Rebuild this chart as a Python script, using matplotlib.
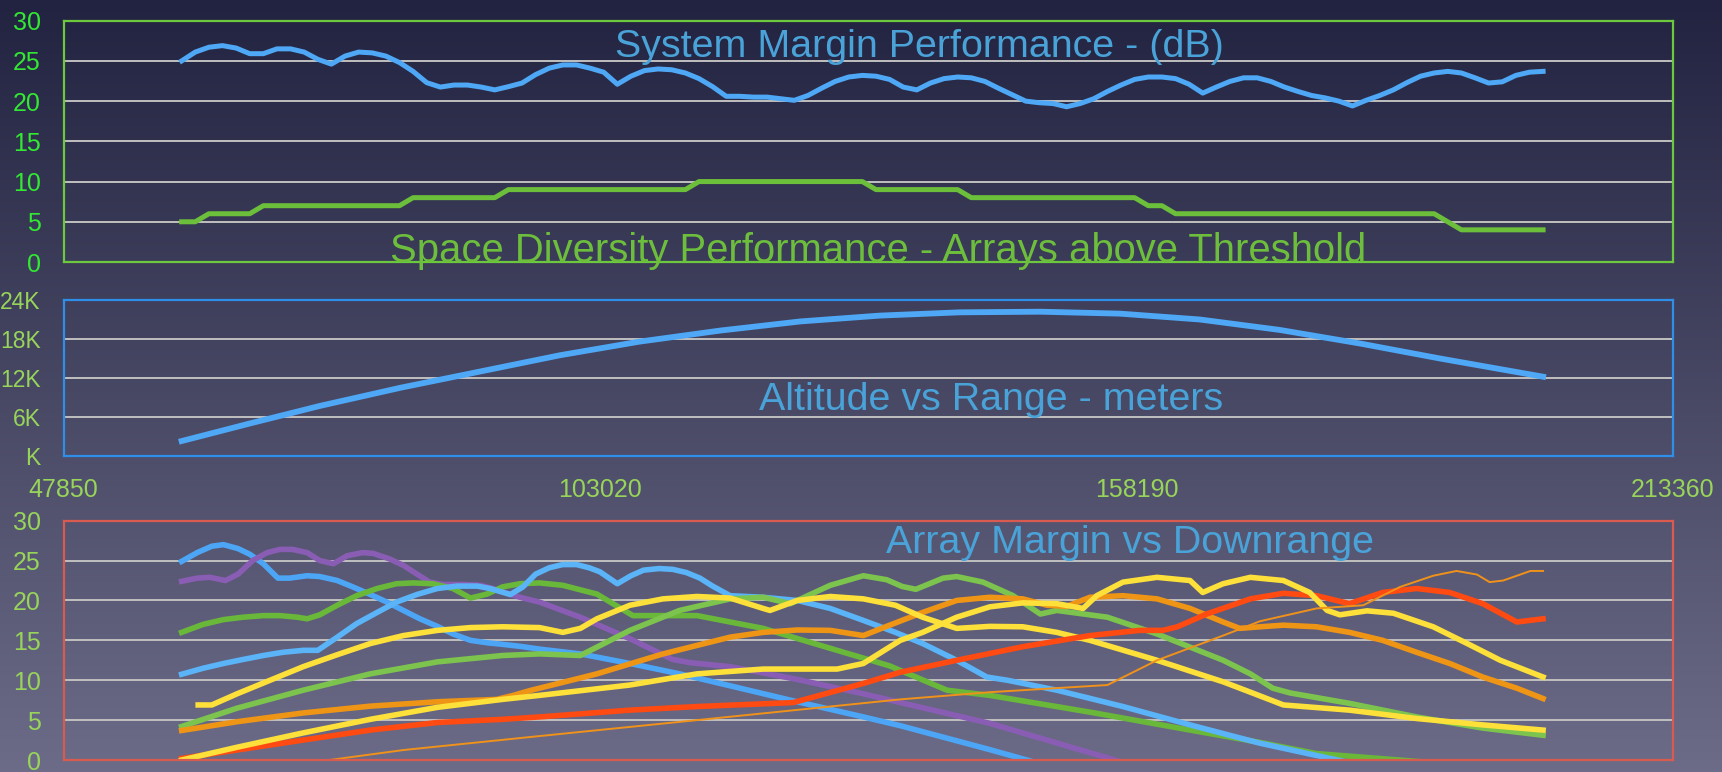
import matplotlib
matplotlib.use("Agg")
import matplotlib.pyplot as plt
import numpy as np

W, H, DPI = 1722, 772, 100

plt.rcParams['font.family'] = ['Liberation Sans', 'DejaVu Sans']

# ---------------- data ----------------
# system panel is sampled every 1400 m downrange
downrange = np.arange(60000, 200001, 1400)

system_margin_db = [
    25.0, 26.1, 26.7, 26.9, 26.6, 25.9, 25.9, 26.5, 26.5, 26.1,
    25.2, 24.6, 25.6, 26.1, 26.0, 25.6, 24.8, 23.7, 22.3, 21.75,
    22.0, 22.0, 21.75, 21.4, 21.8, 22.25, 23.3, 24.1, 24.5, 24.5,
    24.1, 23.6, 22.1, 23.1, 23.8, 24.0, 23.9, 23.5, 22.8, 21.8,
    20.6, 20.6, 20.5, 20.5, 20.3, 20.1, 20.7, 21.6, 22.45, 23.0,
    23.2, 23.1, 22.7, 21.75, 21.4, 22.25, 22.8, 23.0, 22.9, 22.45,
    21.6, 20.8, 20.0, 19.8, 19.7, 19.3, 19.7, 20.3, 21.2, 22.0,
    22.7, 23.0, 23.0, 22.8, 22.1, 21.0, 21.75, 22.45, 22.9, 22.9,
    22.45, 21.75, 21.2, 20.7, 20.4, 20.0, 19.4, 20.1, 20.7, 21.4,
    22.3, 23.1, 23.5, 23.7, 23.5, 22.9, 22.25, 22.4, 23.2, 23.6,
    23.7]

arrays_above_threshold = [
    5, 5,
    6, 6, 6, 6,
    7, 7, 7, 7, 7, 7, 7, 7, 7, 7, 7,
    8, 8, 8, 8, 8, 8, 8,
    9, 9, 9, 9, 9, 9, 9, 9, 9, 9, 9, 9, 9, 9,
    10, 10, 10, 10, 10, 10, 10, 10, 10, 10, 10, 10, 10,
    9, 9, 9, 9, 9, 9, 9,
    8, 8, 8, 8, 8, 8, 8, 8, 8, 8, 8, 8, 8,
    7, 7,
    6, 6, 6, 6, 6, 6, 6, 6, 6, 6, 6, 6, 6, 6, 6, 6, 6, 6, 6, 6,
    5,
    4, 4, 4, 4, 4, 4, 4]

altitude_range = [60000, 67000, 74200, 82500, 90700, 98900, 107100, 115400, 123600,
                  131800, 140000, 148300, 156500, 164700, 172900, 181200, 189400, 200000]
altitude_m = [2300, 5000, 7700, 10500, 13000, 15500, 17600, 19300, 20700,
              21600, 22100, 22200, 21900, 21000, 19400, 17300, 15000, 12200]

# per-array margin (dB) vs downrange (m)
blue_a_x = [60000, 61600, 63100, 64300, 65800, 67000, 68400, 69900, 71100, 72900,
            74200, 76000, 77600, 79400, 81100, 82800, 84500, 86300, 87900, 89700,
            91400, 93000, 94800, 96800, 101000, 106100, 111200, 116400, 123300, 130100,
            133900, 143100, 147500]
blue_a_db = [24.9, 26.0, 26.8, 27.0, 26.5, 25.8, 24.6, 22.8, 22.8, 23.1,
             23.0, 22.5, 21.7, 20.75, 19.8, 18.75, 17.7, 16.75, 15.8, 15.0,
             14.7, 14.5, 14.25, 13.9, 13.3, 12.1, 10.8, 9.3, 7.3, 5.4,
             4.3, 1.3, -0.2]

purple_x = [60000, 61600, 62900, 64500, 65800, 67300, 68800, 70100, 71400, 72900,
            74200, 75600, 77000, 78600, 79700, 81400, 82800, 84200, 85500, 86900,
            88900, 90700, 92000, 93800, 95100, 96800, 101000, 106100, 110500, 112300,
            116400, 123300, 130100, 133900, 143100, 156500]
purple_db = [22.4, 22.8, 22.9, 22.5, 23.3, 25.0, 26.0, 26.4, 26.4, 26.0,
             25.0, 24.6, 25.6, 26.0, 25.9, 25.2, 24.4, 23.3, 22.3, 22.0,
             22.0, 21.9, 21.5, 20.75, 20.3, 19.8, 17.9, 15.2, 12.6, 12.2,
             11.7, 10.1, 8.3, 7.2, 4.6, -0.2]

green_a_x = [60000, 62200, 64300, 66300, 68400, 70100, 71900, 72900, 74200, 76000,
             78000, 80100, 82100, 83800, 85800, 87900, 89700, 91400, 93000, 94800,
             96800, 99200, 102700, 106400, 113000, 119800, 126700, 132800, 138700, 143100,
             153400, 163700, 170900, 176700, 187300]
green_a_db = [16.0, 17.0, 17.6, 17.9, 18.1, 18.1, 17.9, 17.7, 18.2, 19.4,
              20.6, 21.5, 22.1, 22.2, 22.1, 21.5, 20.3, 20.8, 21.7, 22.1,
              22.2, 21.9, 20.8, 18.1, 18.1, 16.5, 14.0, 11.8, 8.75, 8.1,
              6.0, 3.75, 2.2, 0.8, -0.2]

blue_b_x = [60000, 62200, 64300, 66300, 68400, 70400, 72500, 74000, 76000, 78000,
            80100, 82100, 84200, 86300, 88300, 90400, 91700, 93800, 95100, 96400,
            97800, 99200, 100600, 101900, 103000, 104800, 106200, 107500, 109100, 110500,
            111900, 113300, 114600, 116400, 119800, 123300, 126700, 130100, 133400, 136200,
            139700, 142800, 144900, 150000, 156800, 163700, 170900, 179600]
blue_b_db = [10.75, 11.5, 12.1, 12.6, 13.1, 13.5, 13.75, 13.75, 15.4, 17.1,
             18.5, 19.8, 20.75, 21.5, 21.8, 21.8, 21.5, 20.75, 21.7, 23.3,
             24.1, 24.5, 24.5, 24.1, 23.6, 22.1, 23.1, 23.8, 24.0, 23.9,
             23.5, 22.8, 21.8, 20.6, 20.4, 20.0, 19.0, 17.5, 16.0, 14.6,
             12.5, 10.4, 10.0, 8.75, 6.7, 4.4, 2.1, -0.2]

green_b_x = [60000, 65700, 72500, 79400, 86300, 93000, 96800, 101000, 106100, 111200,
             116400, 119800, 122600, 126700, 130100, 132500, 134100, 135500, 138300, 139700,
             142400, 145500, 148300, 150000, 155200, 160300, 167100, 169900, 172200, 174000,
             180100, 187000, 193800, 200000]
green_b_db = [4.2, 6.5, 8.75, 10.8, 12.3, 13.1, 13.3, 13.1, 16.25, 18.75,
              20.2, 20.4, 19.6, 21.9, 23.1, 22.6, 21.75, 21.4, 22.8, 23.0,
              22.3, 20.6, 18.3, 18.75, 17.9, 15.8, 12.5, 10.8, 9.0, 8.4,
              7.1, 5.4, 4.0, 3.1]

yellow_a_x = [61700, 63100, 65700, 69100, 72500, 76000, 79400, 82800, 86300, 89700,
              93000, 96800, 99200, 101000, 102700, 106100, 109500, 113000, 116400, 119800,
              120500, 123300, 126700, 130100, 133400, 136200, 139700, 143100, 146500, 150000,
              153400, 160300, 167100, 169900, 173300, 180100, 187000, 193800, 200000]
yellow_a_db = [6.9, 6.9, 8.3, 10.0, 11.7, 13.2, 14.6, 15.6, 16.25, 16.6,
               16.7, 16.6, 16.0, 16.5, 17.7, 19.4, 20.2, 20.5, 20.3, 19.0,
               18.75, 20.0, 20.5, 20.2, 19.4, 17.9, 16.5, 16.75, 16.7, 16.0,
               15.0, 12.5, 9.8, 8.5, 6.9, 6.25, 5.2, 4.4, 3.75]

yellow_b_x = [60000, 65700, 72500, 79400, 86300, 93000, 96800, 106100, 113000, 119800,
              127400, 130100, 133900, 136200, 139700, 143100, 146500, 150000, 152700, 154100,
              156800, 160300, 163700, 165000, 167100, 169900, 173300, 176000, 177800, 179100,
              181900, 184600, 188700, 192200, 195600, 200000]
yellow_b_db = [0.0, 1.6, 3.4, 5.1, 6.6, 7.6, 8.1, 9.4, 10.8, 11.4,
               11.4, 12.1, 15.0, 16.0, 17.9, 19.2, 19.7, 19.6, 19.0, 20.6,
               22.3, 22.9, 22.5, 21.0, 22.1, 22.9, 22.5, 21.0, 18.75, 18.2,
               18.7, 18.4, 16.7, 14.6, 12.5, 10.4]

orange_x = [60000, 65700, 72500, 79400, 86300, 92400, 94100, 95800, 102700, 109500,
            116400, 119800, 123300, 126700, 130100, 132800, 136200, 139700, 143100, 146500,
            149000, 151000, 153400, 156800, 160300, 163700, 167100, 168800, 170900, 173300,
            176700, 180100, 183500, 187000, 190400, 193800, 197300, 200000]
orange_db = [3.7, 4.8, 5.9, 6.75, 7.3, 7.6, 8.1, 8.7, 10.8, 13.3,
             15.4, 16.0, 16.3, 16.25, 15.6, 16.9, 18.5, 20.0, 20.4, 20.2,
             19.4, 19.25, 20.4, 20.6, 20.2, 19.0, 17.3, 16.5, 16.7, 16.9,
             16.7, 16.0, 15.0, 13.5, 12.1, 10.4, 9.0, 7.7]

red_x = [60000, 65700, 72500, 79400, 86300, 93000, 96800, 106100, 113000, 122900,
         130100, 133900, 139700, 146500, 153400, 158500, 160900, 162400, 165400, 169900,
         173300, 176700, 180100, 183500, 187000, 190400, 193800, 197300, 200000]
red_db = [0.2, 1.25, 2.5, 3.75, 4.7, 5.1, 5.4, 6.25, 6.7, 7.2,
          9.6, 11.0, 12.5, 14.2, 15.6, 16.25, 16.25, 16.7, 18.3, 20.2,
          20.9, 20.6, 19.6, 21.0, 21.5, 21.0, 19.6, 17.3, 17.7]

thin_x = [72500, 82800, 96800, 113000, 133900, 143100, 155200, 160300, 167100, 170900,
          176700, 181500, 185300, 188700, 191100, 193200, 194500, 195900, 197300, 198700,
          200000]
thin_db = [-0.45, 1.25, 3.0, 5.0, 7.6, 8.5, 9.4, 12.5, 15.6, 17.4,
           19.0, 19.4, 21.7, 23.1, 23.7, 23.25, 22.3, 22.5, 23.1, 23.7,
           23.7]

range_ticks = [47850, 103020, 158190, 213360]
alt_ticks = [0, 6000, 12000, 18000, 24000]
alt_ticklabels = ["K", "6K", "12K", "18K", "24K"]
db_ticks = [0, 5, 10, 15, 20, 25, 30]

# ---------------- figure ----------------
fig = plt.figure(figsize=(W / DPI, H / DPI), dpi=DPI)

# background gradient
bg = fig.add_axes([0, 0, 1, 1], zorder=-10)
top_c = np.array([0x22, 0x23, 0x40]) / 255
bot_c = np.array([0x6c, 0x6c, 0x88]) / 255
t = np.linspace(0, 1, 256)[:, None, None]
bg.imshow(top_c * (1 - t) + bot_c * t, aspect='auto', extent=[0, 1, 0, 1])
bg.set_axis_off()

GRID = '#c0c0c0'
LBL_BRIGHT = '#33e833'
LBL_SOFT = '#98d45a'
TITLE_BLUE = '#4aa3d8'


def panel(top, bottom, edge, ticks, labelcolor, labelsize):
    ax = fig.add_axes([63.5 / W, 1 - bottom / H, 1609.5 / W, (bottom - top) / H])
    ax.set_facecolor('none')
    for s in ax.spines.values():
        s.set_color(edge)
        s.set_linewidth(1.6)
    ax.set_xlim(range_ticks[0], range_ticks[-1])
    ax.set_ylim(ticks[0], ticks[-1])
    ax.set_yticks(ticks)
    ax.grid(axis='y', color=GRID, lw=1.4)
    ax.tick_params(axis='y', length=0, pad=16.5, labelsize=labelsize, labelcolor=labelcolor)
    ax.tick_params(axis='x', length=0, labelbottom=False)
    return ax


# top: system margin + arrays above threshold
ax1 = panel(20.7, 262, '#6cc83c', db_ticks, LBL_BRIGHT, 18)
ax1.plot(downrange, arrays_above_threshold, color='#6cbf3a', lw=3.6, solid_joinstyle='round')
ax1.plot(downrange, system_margin_db, color='#4fa8f5', lw=3.6, solid_joinstyle='round')

# middle: altitude
ax2 = panel(300, 456, '#2f8fe8', alt_ticks, LBL_SOFT, 16.5)
ax2.set_yticklabels(alt_ticklabels)
ax2.set_xticks(range_ticks)
ax2.tick_params(axis='x', length=0, labelbottom=True, pad=16, labelsize=18, labelcolor=LBL_SOFT)
ax2.plot(altitude_range, altitude_m, color='#4fa8f5', lw=4.2, solid_joinstyle='round')

# bottom: array margins
ax3 = panel(520.7, 760, '#d95a4e', db_ticks, LBL_SOFT, 18)
series = [
    (blue_a_x, blue_a_db, '#4da6f5', 4.0),
    (purple_x, purple_db, '#8a5db5', 4.0),
    (green_a_x, green_a_db, '#6ab83a', 4.0),
    (blue_b_x, blue_b_db, '#5ab4f7', 4.0),
    (green_b_x, green_b_db, '#7cc44e', 4.0),
    (orange_x, orange_db, '#ef9516', 4.0),
    (yellow_a_x, yellow_a_db, '#fde03a', 4.0),
    (red_x, red_db, '#ff4a12', 4.0),
    (yellow_b_x, yellow_b_db, '#fde03a', 4.0),
    (thin_x, thin_db, '#f0921a', 1.4),
]
for xs, ys, c, lw in series:
    ax3.plot(xs, ys, color=c, lw=lw, solid_joinstyle='round')

# titles
TS = 28.4
fig.text(919 / W, 1 - 57 / H, "System Margin Performance - (dB)", color=TITLE_BLUE,
         fontsize=TS, ha='center', va='baseline')
fig.text(878 / W, 1 - 262 / H, "Space Diversity Performance - Arrays above Threshold",
         color='#6dbe3c', fontsize=28.8, ha='center', va='baseline')
fig.text(991 / W, 1 - 410 / H, "Altitude vs Range - meters", color=TITLE_BLUE,
         fontsize=TS, ha='center', va='baseline')
fig.text(1130 / W, 1 - 553 / H, "Array Margin vs Downrange", color=TITLE_BLUE,
         fontsize=TS, ha='center', va='baseline')

fig.savefig('out.png', dpi=DPI)
